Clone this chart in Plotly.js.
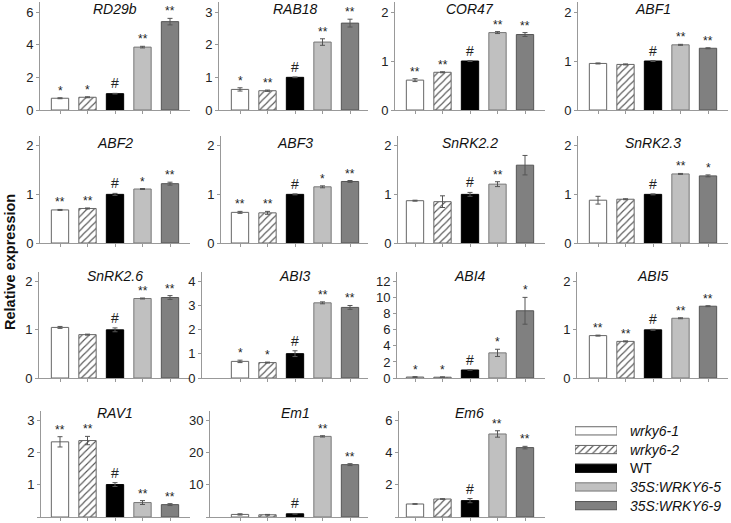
<!DOCTYPE html>
<html>
<head>
<meta charset="utf-8">
<script src="https://cdn.plot.ly/plotly-3.0.1.min.js"></script>
<style>html,body{margin:0;padding:0;background:#fff}#chart{width:731px;height:523px}</style>
</head>
<body>
<div id="chart"></div>
<script>
// ---- data ----
const groups = ['wrky6-1', 'wrky6-2', 'WT', '35S:WRKY6-5', '35S:WRKY6-9'];
const genes = ['RD29b','RAB18','COR47','ABF1','ABF2','ABF3','SnRK2.2','SnRK2.3','SnRK2.6','ABI3','ABI4','ABI5','RAV1','Em1','Em6'];

const RD29b = [0.72, 0.78, 1.0, 3.85, 5.41];   const RD29b_err = [0.03, 0.03, 0.02, 0.05, 0.2];   const RD29b_sig = ['*','*','#','**','**'];
const RAB18 = [0.63, 0.59, 1.0, 2.08, 2.66];   const RAB18_err = [0.05, 0.02, 0.01, 0.1, 0.12];   const RAB18_sig = ['*','**','#','**','**'];
const COR47 = [0.61, 0.77, 1.0, 1.58, 1.54];   const COR47_err = [0.03, 0.01, 0.01, 0.02, 0.04];  const COR47_sig = ['**','**','#','**','**'];
const ABF1 = [0.95, 0.93, 1.0, 1.33, 1.26];    const ABF1_err = [0.01, 0.01, 0.01, 0.01, 0.01];   const ABF1_sig = ['','','#','**','**'];
const ABF2 = [0.68, 0.71, 1.0, 1.11, 1.22];    const ABF2_err = [0.01, 0.01, 0.02, 0.01, 0.03];   const ABF2_sig = ['**','**','#','*','**'];
const ABF3 = [0.63, 0.62, 1.0, 1.155, 1.265];  const ABF3_err = [0.02, 0.03, 0.01, 0.02, 0.02];   const ABF3_sig = ['**','**','#','*','**'];
const SnRK22 = [0.87, 0.85, 1.0, 1.21, 1.6];   const SnRK22_err = [0.01, 0.12, 0.04, 0.05, 0.2];  const SnRK22_sig = ['','','#','**',''];
const SnRK23 = [0.88, 0.9, 1.0, 1.42, 1.38];   const SnRK23_err = [0.08, 0.01, 0.01, 0.01, 0.02]; const SnRK23_sig = ['','','#','**','*'];
const SnRK26 = [1.05, 0.9, 1.0, 1.65, 1.67];   const SnRK26_err = [0.02, 0.01, 0.04, 0.01, 0.04]; const SnRK26_sig = ['','','#','**','**'];
const ABI3 = [0.69, 0.64, 1.01, 3.12, 2.93];   const ABI3_err = [0.05, 0.02, 0.12, 0.04, 0.08];   const ABI3_sig = ['*','*','#','**','**'];
const ABI4 = [0.12, 0.1, 1.0, 3.13, 8.37];     const ABI4_err = [0.05, 0.05, 0.03, 0.45, 1.67];   const ABI4_sig = ['*','*','#','*','*'];
const ABI5 = [0.88, 0.76, 1.0, 1.24, 1.49];    const ABI5_err = [0.01, 0.01, 0.01, 0.01, 0.01];   const ABI5_sig = ['**','**','#','**','**'];
const RAV1 = [2.34, 2.38, 1.01, 0.45, 0.385];  const RAV1_err = [0.16, 0.13, 0.06, 0.06, 0.03];   const RAV1_sig = ['**','**','#','**','**'];
const Em1 = [0.8, 0.7, 1.0, 25.1, 16.3];       const Em1_err = [0.2, 0.1, 0.1, 0.2, 0.3];         const Em1_sig = ['','','#','**','**'];
const Em6 = [0.81, 1.12, 1.02, 5.17, 4.32];    const Em6_err = [0.02, 0.02, 0.13, 0.2, 0.08];     const Em6_sig = ['','','#','**','**'];

const seriesVals = [RD29b, RAB18, COR47, ABF1, ABF2, ABF3, SnRK22, SnRK23, SnRK26, ABI3, ABI4, ABI5, RAV1, Em1, Em6];
const seriesErr  = [RD29b_err, RAB18_err, COR47_err, ABF1_err, ABF2_err, ABF3_err, SnRK22_err, SnRK23_err, SnRK26_err, ABI3_err, ABI4_err, ABI5_err, RAV1_err, Em1_err, Em6_err];
const seriesSig  = [RD29b_sig, RAB18_sig, COR47_sig, ABF1_sig, ABF2_sig, ABF3_sig, SnRK22_sig, SnRK23_sig, SnRK26_sig, ABI3_sig, ABI4_sig, ABI5_sig, RAV1_sig, Em1_sig, Em6_sig];
const yMax   = [6.6, 3.3, 2.2, 2.2, 2.2, 2.2, 2.2, 2.2, 2.2, 4.4, 13.2, 2.2, 3.3, 33, 6.6];
const yDtick = [2, 1, 1, 1, 1, 1, 1, 1, 1, 1, 2, 1, 1, 10, 2];

// ---- styling / geometry ----
const W = 731, H = 523;
const fillColors = ['#ffffff', '#ffffff', '#000000', '#c0c0c0', '#808080'];
const lineColors = ['#666666', '#666666', '#000000', '#777777', '#555555'];
const patterns = ['', '/', '', '', ''];
const rowPx = [[2.2, 110], [136, 243], [272, 378], [411, 517]];
const rowTitleY = [9, 143, 276, 413];
const colFirst = [60, 240, 415, 598];
const colEnd = [190, 368, 545, 728];
const axisStart = [[40, 219, 395, 578], [40, 221, 398, 578], [39, 202, 397, 577], [41, 210, 399, 0]];
const step = 27.5;
const FONT = 'Arial, "Liberation Sans", sans-serif';

function barMarker(i) {
  const m = {color: fillColors[i], line: {color: lineColors[i], width: 1}};
  if (patterns[i]) m.pattern = {shape: patterns[i], fgcolor: '#555555', bgcolor: '#ffffff', size: 5, solidity: 0.22, fillmode: 'replace'};
  return m;
}

const data = [];
const layout = {
  width: W, height: H, margin: {l: 0, r: 0, t: 0, b: 0}, barmode: 'overlay',
  paper_bgcolor: '#fff', plot_bgcolor: 'rgba(0,0,0,0)',
  showlegend: false, font: {family: FONT, color: '#222'},
  annotations: [], shapes: []
};

genes.forEach((g, k) => {
  const row = Math.floor(k / 4), col = k % 4;
  const idx = k + 1, sfx = idx === 1 ? '' : String(idx);
  const xs = axisStart[row][col], xe = colEnd[col], c0 = colFirst[col];
  const lo = -(c0 - xs) / step, hi = 4 + (xe - (c0 + 4 * step)) / step;
  const [top, bot] = rowPx[row];
  groups.forEach((grp, i) => {
    data.push({
      type: 'bar', x: [i], y: [seriesVals[k][i]], width: 0.63,
      xaxis: 'x' + sfx, yaxis: 'y' + sfx, name: grp, hoverinfo: 'skip',
      marker: barMarker(i),
      error_y: {type: 'data', array: [seriesErr[k][i]], visible: true, color: '#555', thickness: 1, width: 2.5}
    });
  });
  layout['xaxis' + sfx] = {
    domain: [xs / W, xe / W], range: [lo, hi], anchor: 'y' + sfx,
    showline: true, linecolor: '#999', linewidth: 1, tickvals: [0, 1, 2, 3, 4],
    ticks: 'outside', ticklen: 3, tickcolor: '#999', showticklabels: false,
    showgrid: false, zeroline: false, fixedrange: true
  };
  layout['yaxis' + sfx] = {
    domain: [1 - bot / H, 1 - top / H], range: [0, yMax[k]], dtick: yDtick[k], tick0: 0,
    anchor: 'x' + sfx, showline: true, linecolor: '#999', linewidth: 1,
    ticks: 'outside', ticklen: 3, tickcolor: '#999', tickfont: {size: 13, color: '#222', family: FONT},
    showgrid: false, zeroline: false, fixedrange: true
  };
  layout.annotations.push({
    text: g, xref: 'x' + sfx, x: 2, yref: 'paper', y: 1 - rowTitleY[row] / H, yanchor: 'middle',
    showarrow: false, font: {size: 14, family: FONT, color: '#111', style: 'italic'}
  });
  seriesSig[k].forEach((s, i) => {
    if (!s) return;
    layout.annotations.push({
      text: s, xref: 'x' + sfx, x: i, yref: 'y' + sfx, y: seriesVals[k][i] + seriesErr[k][i],
      yanchor: 'bottom', yshift: s === '#' ? 0 : -2, showarrow: false,
      font: {size: s === '#' ? 14 : 12, family: FONT, color: '#222'}
    });
  });
});

// y title
layout.annotations.push({
  text: '<b>Relative expression</b>', xref: 'paper', yref: 'paper', x: 10 / W, y: 1 - 262 / H,
  xanchor: 'center', yanchor: 'middle',
  textangle: -90, showarrow: false, font: {size: 14.5, family: FONT, color: '#111'}
});

// legend as a small hidden subplot
const lid = genes.length + 1;
groups.forEach((grp, i) => {
  data.push({
    type: 'bar', orientation: 'h', y: [i], x: [1], width: 0.44,
    xaxis: 'x' + lid, yaxis: 'y' + lid, hoverinfo: 'skip', name: grp,
    marker: barMarker(i)
  });
  layout.annotations.push({
    text: grp, xref: 'paper', x: 628 / W, xanchor: 'left', yref: 'y' + lid, y: i, yanchor: 'middle',
    showarrow: false, font: {size: 14, family: FONT, color: '#111', style: grp === 'WT' ? 'normal' : 'italic'}
  });
});
layout['xaxis' + lid] = {domain: [575 / W, 617 / W], range: [0, 1], visible: false, fixedrange: true, anchor: 'y' + lid};
layout['yaxis' + lid] = {domain: [1 - 515 / H, 1 - 421.5 / H], range: [4.5, -0.5], visible: false, fixedrange: true, anchor: 'x' + lid};

Plotly.newPlot('chart', data, layout, {staticPlot: true, displayModeBar: false});
</script>
</body>
</html>
